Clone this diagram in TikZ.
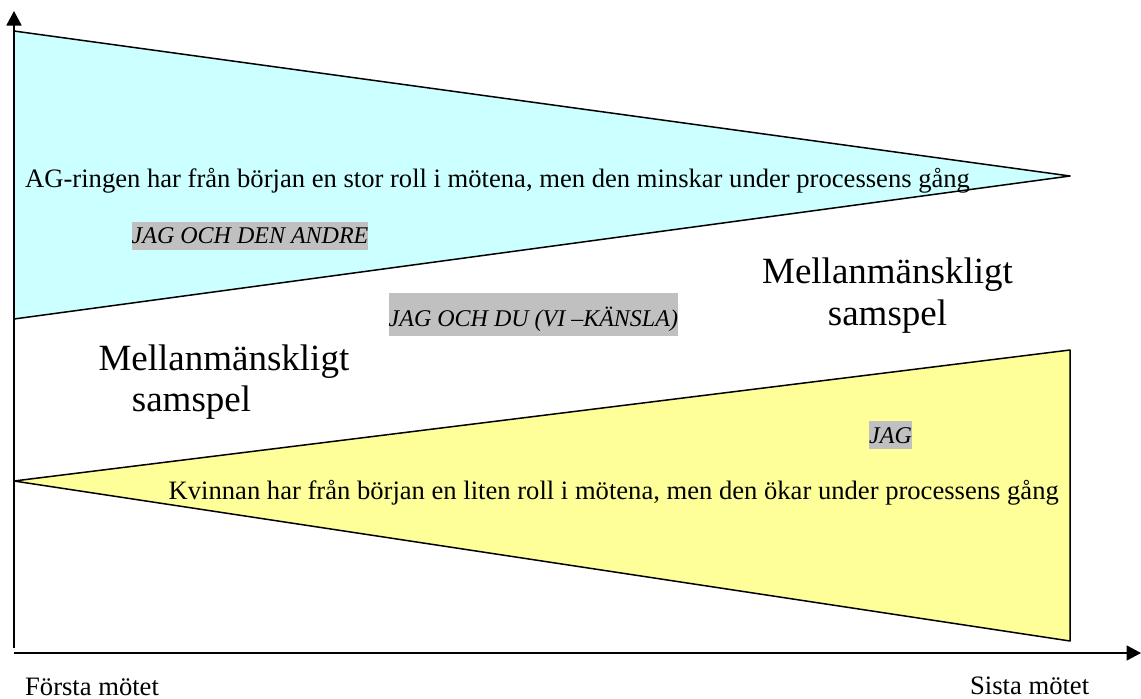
\documentclass[tikz,border=0pt]{standalone}
\usepackage{fontspec}
\setmainfont{LiberationSerif}[Extension=.ttf, UprightFont=*-Regular, ItalicFont=*-Italic, BoldFont=*-Bold, BoldItalicFont=*-BoldItalic]
\usetikzlibrary{arrows.meta}
\definecolor{agcyan}{HTML}{CCFFFF}
\definecolor{kvyellow}{HTML}{FFFF99}
\definecolor{hlgrey}{HTML}{C0C0C0}
\tikzset{
  axis/.style={line width=1.8pt, -{Triangle[length=14.5pt,width=15pt]}},
  wedge/.style={draw=black, line width=1.5pt, line join=round},
  body/.style={anchor=base west, inner sep=0pt, font=\fontsize{26.6}{32}\selectfont},
  big/.style={anchor=base, inner sep=0pt, font=\fontsize{37}{42}\selectfont},
  bigw/.style={anchor=base west, inner sep=0pt, font=\fontsize{37}{42}\selectfont},
  hl/.style={anchor=base west, fill=hlgrey, inner xsep=0pt, inner ysep=0pt, font=\fontsize{24}{28}\selectfont\itshape}
}
\begin{document}
\begin{tikzpicture}[x=1pt,y=-1pt]
\useasboundingbox (0,0) rectangle (1141,699);
% wedges
\fill[agcyan] (14,31) -- (1070,176) -- (14,319) -- cycle;
\draw[wedge] (14,31) -- (1070,176) -- (14,319);
\fill[kvyellow] (14,481) -- (1070,350) -- (1070,641) -- cycle;
\draw[wedge] (14,481) -- (1070,350) -- (1070,641) -- cycle;
% axes
\coordinate (ybot) at (14,648);
\coordinate (ytop) at (14,11);
\coordinate (xleft) at (14,653);
\coordinate (xright) at (1141,653);
\draw[axis] (ybot) -- (ytop);
\draw[axis] (xleft) -- (xright);
% texts
\node[body] (ag) at (25,187.7) {AG-ringen har från början en stor roll i mötena, men den minskar under processens gång};
\node[body] (kv) at (168.5,499.3) {Kvinnan har från början en liten roll i mötena, men den ökar under processens gång};
\node[hl, text height=21.3pt, text depth=7pt] (jda) at (131.5,243) {JAG OCH DEN ANDRE};
\node[hl, text height=34pt, text depth=9pt] (jdu) at (388.5,326.7) {JAG OCH DU (VI –KÄNSLA)};
\node[hl, text height=22pt, text depth=5.7pt] (jag) at (869,443) {JAG};
\node[bigw] (ml1) at (98.3,370) {Mellanmänskligt};
\node[bigw] (ms1) at (131.7,411.7) {samspel};
\node[big] (ml2) at (887.5,283.3) {Mellanmänskligt};
\node[big] (ms2) at (887.5,325) {samspel};
\node[body] (first) at (25,695.5) {Första mötet};
\node[body] (last) at (970,694.5) {Sista mötet};
\end{tikzpicture}
\end{document}
